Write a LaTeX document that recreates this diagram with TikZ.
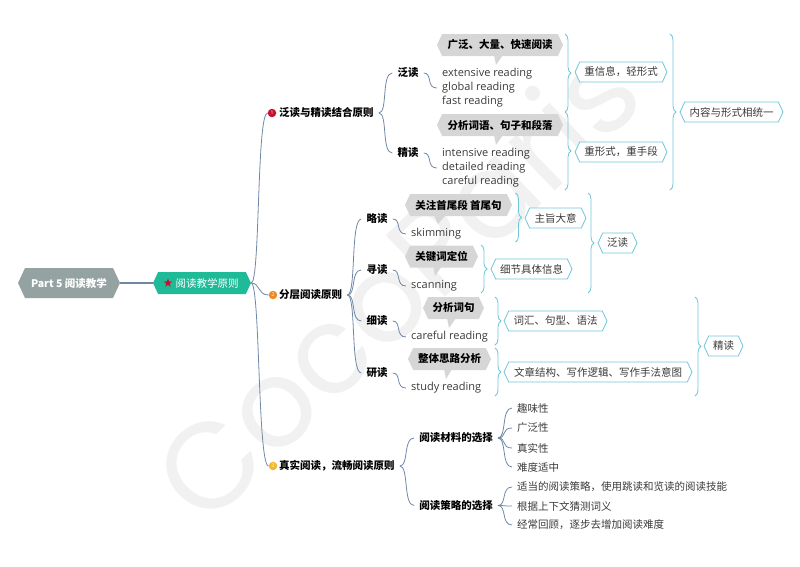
\documentclass[tikz,border=0pt]{standalone}
\usepackage{fontspec}
\setmainfont{Open Sans}
\newfontfamily\cjk{Noto Sans CJK SC}
\newfontfamily\markfont{Poppins}
\usetikzlibrary{shapes.geometric,shapes.symbols}
\usetikzlibrary{decorations.pathreplacing}
\definecolor{rootgrey}{HTML}{94A3A1}
\definecolor{mainteal}{HTML}{1FBB98}
\definecolor{linkblue}{HTML}{7088A6}
\definecolor{sumblue}{HTML}{6FC6D9}
\definecolor{callgrey}{HTML}{D6D6D6}
\definecolor{inkgrey}{HTML}{3A3A3A}
\definecolor{badgered}{HTML}{C8102E}
\definecolor{badgeorange}{HTML}{EE8A2A}
\definecolor{badgeyellow}{HTML}{F3B82F}
\definecolor{markgrey}{HTML}{F1F1F1}
\tikzset{
  hexbox/.style={signal,signal to=west and east,signal pointer angle=130,inner sep=0pt,minimum height=#1},
  roothex/.style={hexbox=30,fill=rootgrey,text=white,minimum width=102,font=\cjk\fontsize{10.5}{12}\selectfont\bfseries},
  mainhex/.style={hexbox=22,fill=mainteal,text=white,minimum width=98,font=\cjk\fontsize{10.5}{12}\selectfont},
  callhex/.style={hexbox=22,fill=callgrey,text=black,font=\cjk\fontsize{10.5}{12}\selectfont\bfseries},
  sumhex/.style={hexbox=20,draw=sumblue,line width=0.8pt,fill=white,text=inkgrey,font=\cjk\fontsize{10.5}{12}\selectfont},
  keytext/.style={inner xsep=5pt,inner ysep=1pt,text=black,font=\cjk\fontsize{10.5}{12}\selectfont\bfseries},
  leaftext/.style={inner xsep=5pt,inner ysep=1pt,text=inkgrey,font=\cjk\fontsize{10.5}{12}\selectfont},
  engtext/.style={inner xsep=5pt,inner ysep=1pt,text=inkgrey,align=left,font=\fontsize{11}{14}\selectfont},
  badge/.style={circle,fill=#1,inner sep=0pt,minimum size=8.5pt,text=white,font=\fontsize{5}{5}\selectfont},
  link/.style={draw=linkblue,line width=0.8pt,to path={.. controls +(9,0) and +(-11,0) .. (\tikztotarget)}},
  sumbrace/.style={draw=sumblue,line width=0.8pt,decorate,decoration={brace,amplitude=6pt}}
}
\begin{document}
\begin{tikzpicture}[x=1pt,y=-1pt]
\useasboundingbox (0,0) rectangle (800,566);

% watermark
\node[rotate=44,text=markgrey,font=\markfont\fontsize{122}{130}\selectfont] (mark) at (395,282) {CocoParis};

% root and main topic
\node[roothex] (root) at (69,283) {Part 5 阅读教学};
\node[mainhex] (main) at (202,283) {\hspace*{10pt}阅读教学原则};
\node[star,star points=5,star point ratio=2.4,fill=badgered,inner sep=0pt,minimum size=9pt] (mainstar) at (168,283) {};

% three rules
\node[badge=badgered] (dotA) at (272,113) {1};
\node[keytext,anchor=west] (ruleA) at (274,113) {泛读与精读结合原则};
\node[badge=badgeorange] (dotB) at (273,295) {2};
\node[keytext,anchor=west] (ruleB) at (274,295) {分层阅读原则};
\node[badge=badgeyellow] (dotC) at (273,466) {3};
\node[keytext,anchor=west] (ruleC) at (274,466) {真实阅读，流畅阅读原则};

% first rule
\node[keytext] (fandu) at (408,73) {泛读};
\node[keytext] (jingdu) at (408,153) {精读};
\fill[callgrey] (494,55) -- (496,65) -- (503,55) -- cycle;
\node[callhex,minimum width=126] (callA) at (500,45) {广泛、大量、快速阅读};
\node[engtext,anchor=west] (engA) at (437,88) {extensive reading\\global reading\\fast reading};
\fill[callgrey] (494,135) -- (496,145) -- (503,135) -- cycle;
\node[callhex,minimum width=126] (callB) at (500,125) {分析词语、句子和段落};
\node[engtext,anchor=west] (engB) at (437,168) {intensive reading\\detailed reading\\careful reading};
\node[sumhex,minimum width=92] (sumA) at (621,72) {重信息，轻形式};
\node[sumhex,minimum width=92] (sumB) at (621,152) {重形式，重手段};
\node[sumhex,minimum width=103] (sumC) at (731.5,112) {内容与形式相统一};

% second rule
\node[keytext] (luedu) at (377,219) {略读};
\node[keytext] (xundu) at (377,270) {寻读};
\node[keytext] (xidu) at (377,321) {细读};
\node[keytext] (yandu) at (377,373) {研读};
\fill[callgrey] (434,215) -- (438,224) -- (446,215) -- cycle;
\node[callhex,minimum width=107] (callC) at (458.5,205) {关注首尾段 首尾句};
\node[engtext,anchor=west] (engC) at (406,234) {skimming};
\fill[callgrey] (433,266) -- (435,276) -- (442,266) -- cycle;
\node[callhex,minimum width=73] (callD) at (441.5,256.5) {关键词定位};
\node[engtext,anchor=west] (engD) at (406,286) {scanning};
\fill[callgrey] (447,318) -- (449,328) -- (456,318) -- cycle;
\node[callhex,minimum width=61] (callE) at (453.5,308) {分析词句};
\node[engtext,anchor=west] (engE) at (406,337) {careful reading};
\fill[callgrey] (444,369) -- (446,379) -- (452,369) -- cycle;
\node[callhex,minimum width=83] (callF) at (449.5,359) {整体思路分析};
\node[engtext,anchor=west] (engF) at (406,388) {study reading};
\node[sumhex,minimum width=61] (sumD) at (555.5,218) {主旨大意};
\node[sumhex,minimum width=81] (sumE) at (531.5,269) {细节具体信息};
\node[sumhex,minimum width=103] (sumF) at (555.5,321) {词汇、句型、语法};
\node[sumhex,minimum width=188] (sumG) at (598,372) {文章结构、写作逻辑、写作手法意图};
\node[sumhex,minimum width=39] (sumH) at (617.5,243) {泛读};
\node[sumhex,minimum width=39] (sumI) at (723.5,346) {精读};

% third rule
\node[keytext] (cailiao) at (456,438) {阅读材料的选择};
\node[keytext] (celue) at (456,505.5) {阅读策略的选择};
\node[leaftext,anchor=west] (leafA) at (512,408) {趣味性};
\node[leaftext,anchor=west] (leafB) at (512,428) {广泛性};
\node[leaftext,anchor=west] (leafC) at (512,448) {真实性};
\node[leaftext,anchor=west] (leafD) at (512,467) {难度适中};
\node[leaftext,anchor=west] (leafE) at (512,487) {适当的阅读策略，使用跳读和览读的阅读技能};
\node[leaftext,anchor=west] (leafF) at (512,506) {根据上下文猜测词义};
\node[leaftext,anchor=west] (leafG) at (512,525) {经常回顾，逐步去增加阅读难度};

% connectors
\draw[linkblue,line width=1.6pt] (root.east) -- (main.west);
\draw[link] (main.east) to (dotA.west);
\draw[link] (main.east) to (dotB.west);
\draw[link] (main.east) to (dotC.west);
\draw[link] (ruleA.east) to (fandu.west);
\draw[link] (ruleA.east) to (jingdu.west);
\draw[link] (fandu.east) to (engA.west);
\draw[link] (jingdu.east) to (engB.west);
\draw[link] (ruleB.east) to (luedu.west);
\draw[link] (ruleB.east) to (xundu.west);
\draw[link] (ruleB.east) to (xidu.west);
\draw[link] (ruleB.east) to (yandu.west);
\draw[link] (luedu.east) to (engC.west);
\draw[link] (xundu.east) to (engD.west);
\draw[link] (xidu.east) to (engE.west);
\draw[link] (yandu.east) to (engF.west);
\draw[link] (ruleC.east) to (cailiao.west);
\draw[link] (ruleC.east) to (celue.west);
\draw[link] (cailiao.east) to (leafA.west);
\draw[link] (cailiao.east) to (leafB.west);
\draw[link] (cailiao.east) to (leafC.west);
\draw[link] (cailiao.east) to (leafD.west);
\draw[link] (celue.east) to (leafE.west);
\draw[link] (celue.east) to (leafF.west);
\draw[link] (celue.east) to (leafG.west);

% summary braces
\coordinate (braceAtop) at (565,34);
\coordinate (braceAbot) at (565,112);
\coordinate (braceBtop) at (565,112);
\coordinate (braceBbot) at (565,190);
\coordinate (braceCtop) at (670,34);
\coordinate (braceCbot) at (670,190);
\coordinate (braceDtop) at (515.5,193);
\coordinate (braceDbot) at (515.5,242);
\coordinate (braceEtop) at (481,245);
\coordinate (braceEbot) at (481,293);
\coordinate (braceFtop) at (495,297);
\coordinate (braceFbot) at (495,345);
\coordinate (braceGtop) at (495,348);
\coordinate (braceGbot) at (495,396);
\coordinate (braceHtop) at (588,193);
\coordinate (braceHbot) at (588,293);
\coordinate (braceItop) at (695,297);
\coordinate (braceIbot) at (695,396);
\draw[sumbrace] (braceAtop) -- (braceAbot);
\draw[sumbrace] (braceBtop) -- (braceBbot);
\draw[sumbrace] (braceCtop) -- (braceCbot);
\draw[sumbrace] (braceDtop) -- (braceDbot);
\draw[sumbrace] (braceEtop) -- (braceEbot);
\draw[sumbrace] (braceFtop) -- (braceFbot);
\draw[sumbrace] (braceGtop) -- (braceGbot);
\draw[sumbrace] (braceHtop) -- (braceHbot);
\draw[sumbrace] (braceItop) -- (braceIbot);

\end{tikzpicture}
\end{document}
